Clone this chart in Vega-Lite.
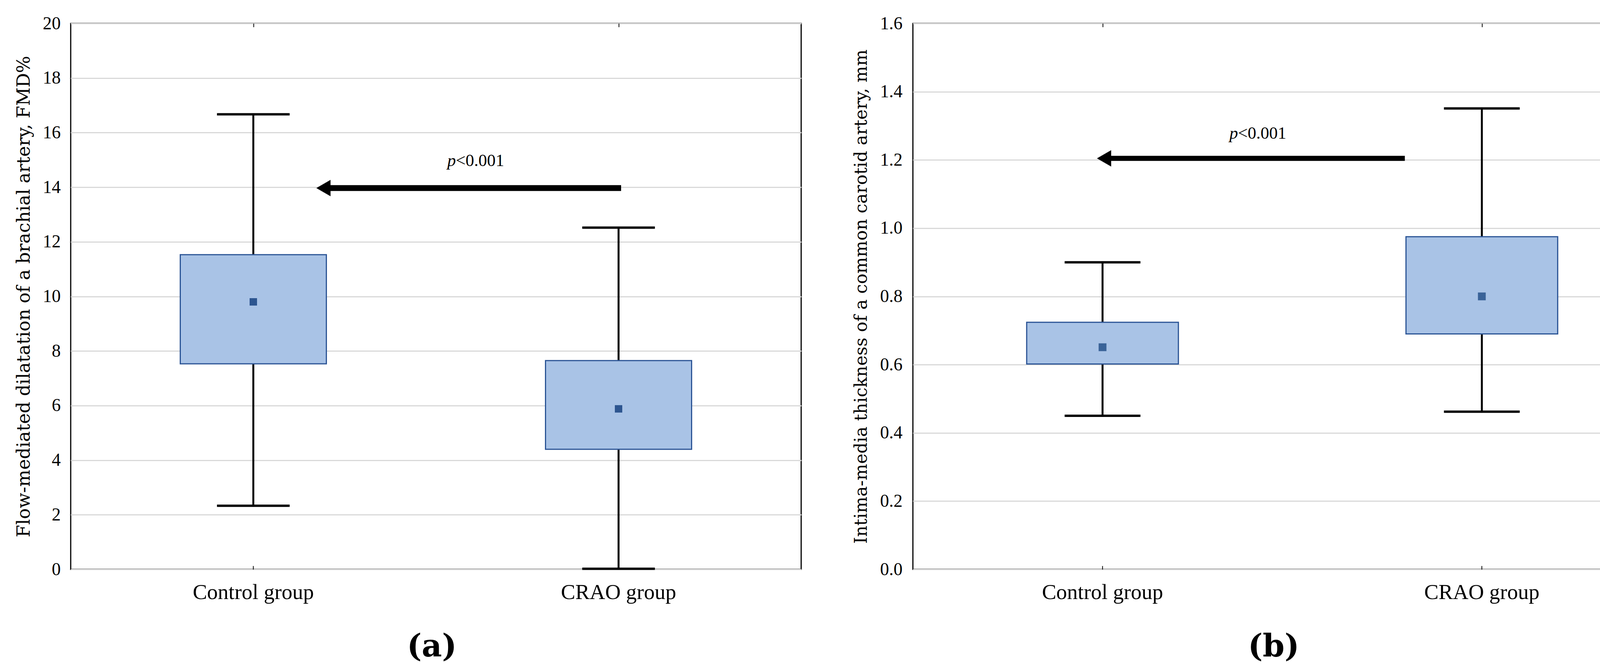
{
  "$schema": "https://vega.github.io/schema/vega-lite/v6.json",
  "background": "white",
  "padding": {"left": 36, "top": 35, "right": 10, "bottom": 5},
  "bounds": "flush",
  "spacing": 286,
  "config": {
    "view": {"stroke": "black", "strokeWidth": 3},
    "axis": {
      "labelFont": "Liberation Serif",
      "titleFont": "DejaVu Serif",
      "labelColor": "black",
      "titleColor": "black",
      "gridColor": "#d9d9d9",
      "gridWidth": 3,
      "domain": false,
      "ticks": false,
      "titleFontWeight": "normal"
    }
  },
  "datasets": {
    "boxA": [
      {"group": "Control group", "lo": 2.33, "q1": 7.53, "mean": 9.8, "q3": 11.53, "hi": 16.67},
      {"group": "CRAO group", "lo": 0.02, "q1": 4.4, "mean": 5.88, "q3": 7.65, "hi": 12.52}
    ],
    "boxB": [
      {"group": "Control group", "lo": 0.45, "q1": 0.602, "mean": 0.651, "q3": 0.724, "hi": 0.9},
      {"group": "CRAO group", "lo": 0.462, "q1": 0.69, "mean": 0.8, "q3": 0.975, "hi": 1.351}
    ],
    "arrowA": [{"x1": 0.692, "x2": 1.507, "y": 13.97, "tx": 1.0545, "ty": 14.78}],
    "arrowB": [{"x1": 0.504, "x2": 1.297, "y": 1.2046, "tx": 0.857, "ty": 1.262}]
  },
  "hconcat": [
    {
      "width": 1870,
      "height": 1397,
      "resolve": {"scale": {"x": "independent"}},
      "layer": [
        {
          "data": {"name": "boxA"},
          "encoding": {
            "x": {
              "field": "group", "type": "nominal",
              "scale": {"type": "band", "paddingInner": 0, "paddingOuter": 0, "domain": ["Control group", "CRAO group"]},
              "title": "(a)",
              "axis": {"labelAngle": 0, "labelFontSize": 55, "labelLimit": 0, "labelPadding": 41, "ticks": true, "tickSize": -9, "tickColor": "black", "tickWidth": 2, "titleFontSize": 80, "titleFont": "DejaVu Serif", "titleFontWeight": "bold", "titleX": 924, "titleY": 222, "titleBaseline": "alphabetic", "grid": false}
            }
          },
          "layer": [
            {
              "mark": {"type": "rule", "color": "black", "strokeWidth": 5},
              "encoding": {
                "y": {
                  "field": "lo", "type": "quantitative",
                  "scale": {"domain": [0, 20], "nice": false},
                  "title": "Flow-mediated dilatation of a brachial artery, FMD%",
                  "axis": {"values": [0, 2, 4, 6, 8, 10, 12, 14, 16, 18, 20], "format": "d", "labelFontSize": 46, "labelPadding": 26, "titleFontSize": 46, "titlePadding": 24, "grid": true}
                },
                "y2": {"field": "hi"}
              }
            },
            {
              "mark": {"type": "bar", "width": {"band": 0.4}, "fill": "#a9c3e6", "stroke": "#2c5596", "strokeWidth": 3},
              "encoding": {"y": {"field": "q1", "type": "quantitative"}, "y2": {"field": "q3"}}
            },
            {
              "mark": {"type": "tick", "orient": "horizontal", "size": 186, "thickness": 6, "color": "black", "opacity": 1},
              "encoding": {"y": {"field": "lo", "type": "quantitative"}}
            },
            {
              "mark": {"type": "tick", "orient": "horizontal", "size": 186, "thickness": 6, "color": "black", "opacity": 1},
              "encoding": {"y": {"field": "hi", "type": "quantitative"}}
            },
            {
              "mark": {"type": "point", "shape": "square", "filled": true, "size": 361, "color": "#2d5590", "opacity": 1},
              "encoding": {"y": {"field": "mean", "type": "quantitative"}}
            }
          ]
        },
        {
          "data": {"name": "arrowA"},
          "layer": [
            {
              "mark": {"type": "rule", "color": "black", "strokeWidth": 15},
              "encoding": {
                "x": {"field": "x1", "type": "quantitative", "scale": {"domain": [0, 2], "nice": false},
                  "axis": {"orient": "top", "values": [0.5, 1.5], "labels": false, "ticks": true, "tickSize": -9, "tickColor": "black", "tickWidth": 2, "domain": false, "grid": false, "title": null}},
                "x2": {"field": "x2"},
                "y": {"field": "y", "type": "quantitative"}
              }
            },
            {
              "mark": {"type": "point", "shape": "triangle-left", "filled": true, "size": 1764, "color": "black", "opacity": 1},
              "encoding": {
                "x": {"field": "x1", "type": "quantitative"},
                "y": {"field": "y", "type": "quantitative"}
              }
            },
            {
              "mark": {"type": "text", "text": "p", "font": "Liberation Serif", "fontStyle": "italic", "fontSize": 44, "align": "right", "baseline": "alphabetic", "color": "black"},
              "encoding": {
                "x": {"field": "tx", "type": "quantitative"},
                "y": {"field": "ty", "type": "quantitative"}
              }
            },
            {
              "mark": {"type": "text", "text": "<0.001", "font": "Liberation Serif", "fontSize": 44, "align": "left", "baseline": "alphabetic", "color": "black"},
              "encoding": {
                "x": {"field": "tx", "type": "quantitative"},
                "y": {"field": "ty", "type": "quantitative"}
              }
            }
          ]
        }
      ]
    },
    {
      "width": 1942,
      "height": 1397,
      "resolve": {"scale": {"x": "independent"}},
      "layer": [
        {
          "data": {"name": "boxB"},
          "encoding": {
            "x": {
              "field": "group", "type": "nominal",
              "scale": {"type": "band", "paddingInner": 0, "paddingOuter": 0, "domain": ["Control group", "CRAO group"]},
              "title": "(b)",
              "axis": {"labelAngle": 0, "labelFontSize": 55, "labelLimit": 0, "labelPadding": 41, "ticks": true, "tickSize": -9, "tickColor": "black", "tickWidth": 2, "titleFontSize": 80, "titleFont": "DejaVu Serif", "titleFontWeight": "bold", "titleX": 923, "titleY": 222, "titleBaseline": "alphabetic", "grid": false}
            }
          },
          "layer": [
            {
              "mark": {"type": "rule", "color": "black", "strokeWidth": 5},
              "encoding": {
                "y": {
                  "field": "lo", "type": "quantitative",
                  "scale": {"domain": [0, 1.6], "nice": false},
                  "title": "Intima-media thickness of a common carotid artery, mm",
                  "axis": {"values": [0, 0.2, 0.4, 0.6, 0.8, 1.0, 1.2, 1.4, 1.6], "format": ".1f", "labelFontSize": 46, "labelPadding": 27, "titleFontSize": 44.5, "titlePadding": 25, "grid": true}
                },
                "y2": {"field": "hi"}
              }
            },
            {
              "mark": {"type": "bar", "width": {"band": 0.4}, "fill": "#a9c3e6", "stroke": "#2c5596", "strokeWidth": 3},
              "encoding": {"y": {"field": "q1", "type": "quantitative"}, "y2": {"field": "q3"}}
            },
            {
              "mark": {"type": "tick", "orient": "horizontal", "size": 194, "thickness": 6, "color": "black", "opacity": 1},
              "encoding": {"y": {"field": "lo", "type": "quantitative"}}
            },
            {
              "mark": {"type": "tick", "orient": "horizontal", "size": 194, "thickness": 6, "color": "black", "opacity": 1},
              "encoding": {"y": {"field": "hi", "type": "quantitative"}}
            },
            {
              "mark": {"type": "point", "shape": "square", "filled": true, "size": 400, "color": "#3a6398", "opacity": 1},
              "encoding": {"y": {"field": "mean", "type": "quantitative"}}
            }
          ]
        },
        {
          "data": {"name": "arrowB"},
          "layer": [
            {
              "mark": {"type": "rule", "color": "black", "strokeWidth": 13},
              "encoding": {
                "x": {"field": "x1", "type": "quantitative", "scale": {"domain": [0, 2], "nice": false},
                  "axis": {"orient": "top", "values": [0.5, 1.5], "labels": false, "ticks": true, "tickSize": -9, "tickColor": "black", "tickWidth": 2, "domain": false, "grid": false, "title": null}},
                "x2": {"field": "x2"},
                "y": {"field": "y", "type": "quantitative"}
              }
            },
            {
              "mark": {"type": "point", "shape": "triangle-left", "filled": true, "size": 1764, "color": "black", "opacity": 1},
              "encoding": {
                "x": {"field": "x1", "type": "quantitative"},
                "y": {"field": "y", "type": "quantitative"}
              }
            },
            {
              "mark": {"type": "text", "text": "p", "font": "Liberation Serif", "fontStyle": "italic", "fontSize": 44, "align": "right", "baseline": "alphabetic", "color": "black"},
              "encoding": {
                "x": {"field": "tx", "type": "quantitative"},
                "y": {"field": "ty", "type": "quantitative"}
              }
            },
            {
              "mark": {"type": "text", "text": "<0.001", "font": "Liberation Serif", "fontSize": 44, "align": "left", "baseline": "alphabetic", "color": "black"},
              "encoding": {
                "x": {"field": "tx", "type": "quantitative"},
                "y": {"field": "ty", "type": "quantitative"}
              }
            }
          ]
        }
      ]
    }
  ]
}
